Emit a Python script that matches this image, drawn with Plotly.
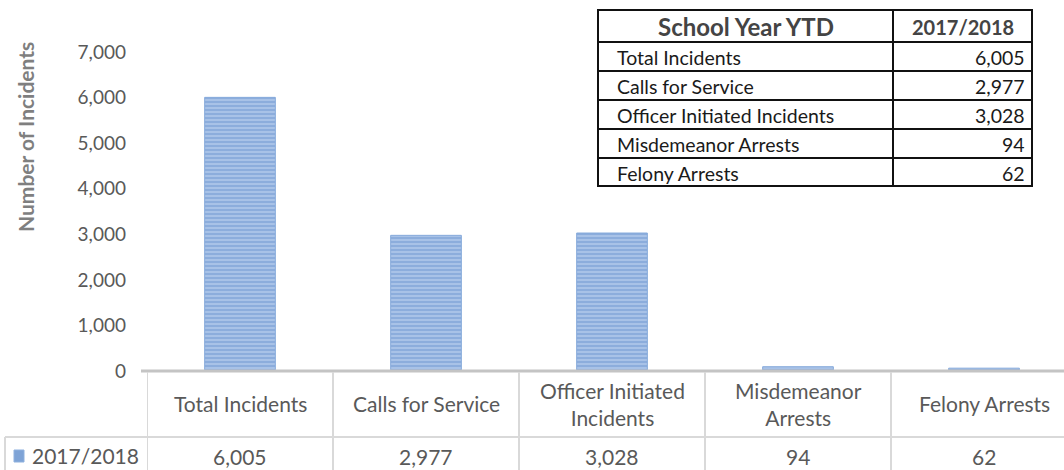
import plotly.graph_objects as go

categories = ["Total Incidents", "Calls for Service", "Officer Initiated Incidents",
              "Misdemeanor Arrests", "Felony Arrests"]
cat_labels = ["Total Incidents", "Calls for Service", "Officer Initiated<br>Incidents",
              "Misdemeanor<br>Arrests", "Felony Arrests"]
values_2017 = [6005, 2977, 3028, 94, 62]
series_name = "2017/2018"
table_header = ["School Year YTD", "2017/2018"]
y_ticks = [0, 1000, 2000, 3000, 4000, 5000, 6000, 7000]

W, H = 1064, 470
L, R, T, B = 147, 0, 8, 99
PW, PH = W - L - R, H - T - B


def px(xp):
    return (xp - L) / PW


def py(yp):
    return (H - B - yp) / PH


FONT = "Lato, 'Open Sans', sans-serif"
GRAY = "#595959"

fig = go.Figure()
fig.add_trace(go.Bar(
    x=list(range(len(categories))), y=values_2017, width=0.38,
    marker=dict(color="#a4bfe6",
                line=dict(color="#86aadb", width=1),
                pattern=dict(shape="-", fgcolor="#6f98d2", bgcolor="#a8c2e7",
                             size=4, solidity=0.5)),
    name=series_name, showlegend=False, hoverinfo="x+y"))

shapes = []
annotations = []

# axis baseline
shapes.append(dict(type="line", xref="paper", yref="paper", x0=px(141), x1=px(W), y0=py(371), y1=py(371),
                   line=dict(color="#c4c4c4", width=3)))
# bottom data table grid
grid = "#d9d9d9"
for i in range(len(categories) + 1):
    shapes.append(dict(type="line", xref="x", yref="paper", x0=i - 0.5, x1=i - 0.5,
                       y0=py(372), y1=py(H + 5), line=dict(color=grid, width=2)))
shapes.append(dict(type="line", xref="paper", yref="paper", x0=px(5), x1=px(W), y0=py(437), y1=py(437),
                   line=dict(color=grid, width=2)))
shapes.append(dict(type="line", xref="paper", yref="paper", x0=px(5), x1=px(5), y0=py(437), y1=py(H + 5),
                   line=dict(color=grid, width=2)))
# legend key
shapes.append(dict(type="rect", xref="paper", yref="paper", x0=px(14), x1=px(24), y0=py(462), y1=py(450),
                   fillcolor="#7ea3d6", line=dict(color="#8fb1de", width=1)))
annotations.append(dict(xref="paper", yref="paper", x=px(141), y=py(455), text=series_name,
                        showarrow=False, xanchor="right", yanchor="middle",
                        font=dict(family=FONT, size=21, color=GRAY)))
for i, (lab, v) in enumerate(zip(cat_labels, values_2017)):
    annotations.append(dict(xref="x", yref="paper", x=i, y=py(404), text=lab, showarrow=False,
                            xanchor="center", yanchor="middle",
                            font=dict(family=FONT, size=21, color=GRAY)))
    annotations.append(dict(xref="x", yref="paper", x=i, y=py(456), text=f"{v:,}", showarrow=False,
                            xanchor="center", yanchor="middle",
                            font=dict(family=FONT, size=21, color=GRAY)))

# y axis title
annotations.append(dict(xref="paper", yref="paper", x=px(25), y=py(137), text="<b>Number of Incidents</b>",
                        textangle=-90, showarrow=False, xanchor="center", yanchor="middle",
                        font=dict(family=FONT, size=21, color="#7f7f7f")))

# top-right summary table
tx0, tx1, tmid = 598, 1032, 893
row_y = [10, 42, 71, 100, 129, 158, 186]
blk = dict(color="#111111", width=2)
shapes.append(dict(type="rect", xref="paper", yref="paper", x0=px(tx0), x1=px(tx1),
                   y0=py(row_y[-1]), y1=py(row_y[0]), line=blk, fillcolor="white", layer="above"))
shapes.append(dict(type="line", xref="paper", yref="paper", x0=px(tmid), x1=px(tmid),
                   y0=py(row_y[-1]), y1=py(row_y[0]), line=blk, layer="above"))
for yy in row_y[1:-1]:
    shapes.append(dict(type="line", xref="paper", yref="paper", x0=px(tx0), x1=px(tx1),
                       y0=py(yy), y1=py(yy), line=blk, layer="above"))
hc = (row_y[0] + row_y[1]) / 2 + 1
annotations.append(dict(xref="paper", yref="paper", x=px((tx0 + tmid) / 2), y=py(hc),
                        text="<b>" + table_header[0] + "</b>", showarrow=False,
                        xanchor="center", yanchor="middle",
                        font=dict(family=FONT, size=24, color="#444444")))
annotations.append(dict(xref="paper", yref="paper", x=px((tmid + tx1) / 2), y=py(hc),
                        text="<b>" + table_header[1] + "</b>", showarrow=False,
                        xanchor="center", yanchor="middle",
                        font=dict(family=FONT, size=20, color="#444444")))
for k, (c, v) in enumerate(zip(categories, values_2017)):
    yc = (row_y[k + 1] + row_y[k + 2]) / 2 + 1
    annotations.append(dict(xref="paper", yref="paper", x=px(615), y=py(yc), text=c, showarrow=False,
                            xanchor="left", yanchor="middle",
                            font=dict(family=FONT, size=19.5, color="#1a1a1a")))
    annotations.append(dict(xref="paper", yref="paper", x=px(1027), y=py(yc), text=f"{v:,}",
                            showarrow=False, xanchor="right", yanchor="middle",
                            font=dict(family=FONT, size=19.5, color="#1a1a1a")))

fig.update_layout(
    width=W, height=H, margin=dict(l=L, r=R, t=T, b=B, pad=0),
    paper_bgcolor="white", plot_bgcolor="white",
    xaxis=dict(range=[-0.5, 4.43], showticklabels=False, showgrid=False, zeroline=False,
               showline=False, ticks=""),
    yaxis=dict(range=[0, 7966], tickvals=y_ticks, tickformat=",", showgrid=False, zeroline=False,
               showline=False, ticks="", ticklabelstandoff=20,
               tickfont=dict(family=FONT, size=19, color=GRAY)),
    shapes=shapes, annotations=annotations, showlegend=False, bargap=0.6,
)

fig.write_html("out.html", config={"displayModeBar": False},
               post_script="document.body.style.margin='0px';document.body.style.overflow='hidden';")
